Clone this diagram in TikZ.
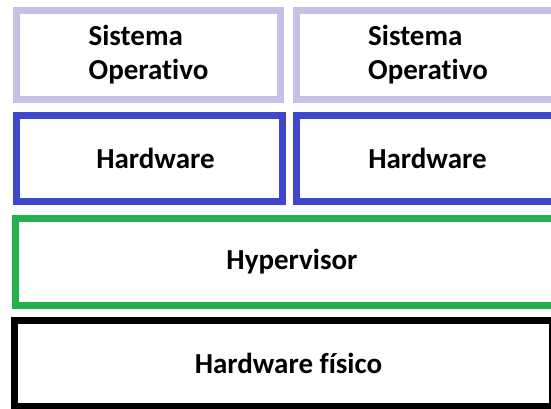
\documentclass[tikz,border=0pt]{standalone}
\usepackage{fontspec}
\setmainfont[Ligatures=NoCommon]{Carlito}
\definecolor{oslav}{HTML}{C8BFE7}
\definecolor{hwblue}{HTML}{3F48CC}
\definecolor{hypgreen}{HTML}{22B14C}
\begin{document}
\begin{tikzpicture}[x=1pt,y=-1pt,
  layer/.style={draw, line width=7pt, rectangle, inner sep=0pt, outer sep=0pt,
    font=\bfseries\fontsize{29}{34}\selectfont, text=black},
  osbox/.style={layer, draw=oslav, align=left},
  hwbox/.style={layer, draw=hwblue},
  hypbox/.style={layer, draw=hypgreen},
  physbox/.style={layer, draw=black}]
\useasboundingbox (0,0) rectangle (551,409);
\clip (0,0) rectangle (551,409);
% guest operating systems
\node[osbox, minimum width=264pt, minimum height=89pt] (os1) at (148.5,55) {Sistema\\Operativo};
\node[osbox, minimum width=263pt, minimum height=89pt] (os2) at (428,55) {Sistema\\Operativo};
% virtual hardware
\node[hwbox, minimum width=266pt, minimum height=86pt] (hw1) at (149.5,158.5) {\hspace*{12pt}Hardware};
\node[hwbox, minimum width=262pt, minimum height=86pt] (hw2) at (427.5,158.5) {Hardware};
% hypervisor layer
\node[hypbox, minimum width=553pt, minimum height=87pt] (hyp) at (292,262) {Hypervisor};
% physical hardware
\node[physbox, minimum width=538pt, minimum height=86pt] (phys) at (283.5,363.5) {\hspace*{10pt}Hardware físico};
\end{tikzpicture}
\end{document}
